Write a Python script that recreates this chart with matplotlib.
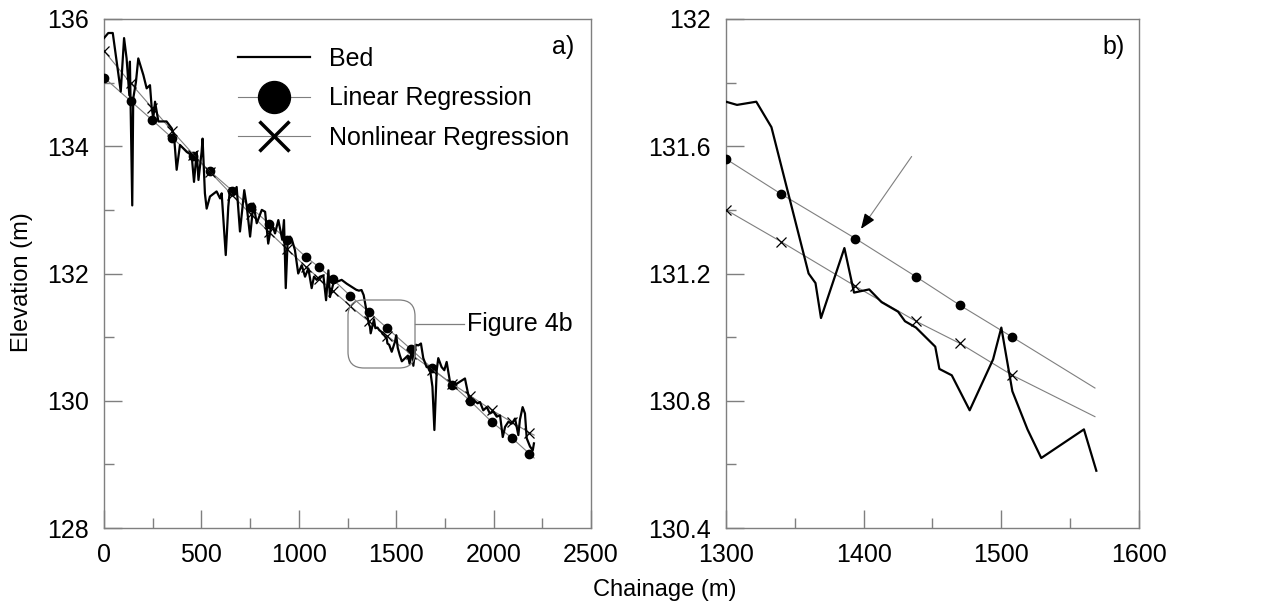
import numpy as np
import matplotlib
matplotlib.use('Agg')
import matplotlib.pyplot as plt
from matplotlib.lines import Line2D
from matplotlib.patches import FancyBboxPatch
from matplotlib.transforms import IdentityTransform
from matplotlib.ticker import MultipleLocator, FuncFormatter

plt.rcParams['font.family'] = ['Liberation Sans', 'DejaVu Sans']

# ── Bed profile (chainage m, elevation m) ───────────────────────────────────
BED_X = [0, 22, 45, 65, 86, 103, 116, 130, 133, 145, 150, 164, 176, 202, 219,
         236, 245, 253, 262, 279, 321, 348, 359, 373, 390, 425, 450, 462, 476,
         485, 501, 506, 518, 527, 544, 578, 596, 604, 625, 638, 647, 664, 681,
         698, 720, 733, 750, 767, 784, 810, 827, 843, 861, 878, 895, 915, 924,
         933, 943, 955, 963, 980, 997, 1015, 1032, 1049, 1066, 1078, 1092,
         1109, 1126, 1140, 1152, 1160, 1177, 1195, 1220, 1246, 1272, 1297,
         1300, 1308, 1322, 1333, 1360, 1365, 1369, 1386, 1393, 1404, 1413, 1425,
         1430, 1438, 1452, 1455, 1464, 1477, 1494, 1500, 1508, 1519, 1529, 1560,
         1569, 1580, 1588, 1600, 1614, 1627, 1639, 1656, 1673, 1686, 1696, 1708,
         1716, 1733, 1747, 1759, 1776, 1802, 1828, 1853, 1867, 1879, 1896, 1918,
         1930, 1947, 1965, 1981, 1999, 2016, 2033, 2047, 2059, 2076, 2093, 2110,
         2127, 2135, 2149, 2161, 2170, 2178, 2187, 2201, 2207]
BED_Z = [135.70, 135.78, 135.78, 135.33, 134.86, 135.70, 135.38, 134.80, 135.33,
         133.07, 134.75, 135.01, 135.38, 135.12, 134.91, 134.96, 134.60, 134.44,
         134.70, 134.39, 134.39, 134.28, 134.18, 133.63, 134.02, 133.91, 133.86,
         133.44, 133.91, 133.47, 133.91, 134.12, 133.26, 133.02, 133.21, 133.29,
         133.18, 133.26, 132.29, 133.05, 133.34, 133.26, 133.36, 132.66, 133.31,
         133.05, 132.58, 133.10, 132.79, 133.00, 132.97, 132.47, 132.79, 132.63,
         132.84, 132.53, 132.84, 131.77, 132.53, 132.58, 132.55, 132.37, 132.00,
         132.13, 131.95, 132.08, 131.77, 131.95, 131.90, 131.95, 131.97, 131.58,
         132.05, 131.63, 131.84, 131.87, 131.90, 131.84, 131.79, 131.74,
         131.74, 131.73, 131.74, 131.66, 131.20, 131.17, 131.06, 131.28, 131.14,
         131.15, 131.11, 131.08, 131.05, 131.03, 130.97, 130.90, 130.88, 130.77,
         130.93, 131.03, 130.83, 130.71, 130.62, 130.71, 130.58, 130.82, 130.55,
         130.88, 130.87, 130.90, 130.67, 130.53, 130.51, 130.22, 129.54, 130.48,
         130.67, 130.53, 130.48, 130.61, 130.30, 130.25, 130.30, 130.35, 130.14,
         129.98, 130.01, 129.96, 129.98, 129.85, 129.90, 129.80, 129.83, 129.75,
         129.77, 129.43, 129.59, 129.67, 129.64, 129.72, 129.46, 129.70, 129.90,
         129.80, 129.41, 129.35, 129.28, 129.22, 129.33]

# ── Regression values, panel a) (last value is the line end, no marker) ─────
REG_X_A = [0, 137, 248, 350, 459, 543, 659, 753, 848, 941, 1036, 1104, 1174,
           1264, 1358, 1454, 1576, 1684, 1787, 1879, 1993, 2096, 2183, 2208]
LIN_A = [135.08, 134.71, 134.41, 134.13, 133.84, 133.61, 133.30, 133.04, 132.78,
         132.53, 132.26, 132.10, 131.91, 131.65, 131.40, 131.14, 130.81, 130.51,
         130.25, 130.00, 129.66, 129.41, 129.17, 129.10]
NONLIN_A = [135.50, 134.99, 134.60, 134.24, 133.87, 133.60, 133.23, 132.93,
            132.65, 132.38, 132.11, 131.92, 131.73, 131.49, 131.25, 131.02,
            130.73, 130.49, 130.27, 130.08, 129.85, 129.66, 129.50, 129.46]

# ── Regression values, panel b) ──────────────────────────────────────────────
REG_X_B = [1300, 1340, 1394, 1438, 1470, 1508, 1568]
LIN_B = [131.56, 131.45, 131.31, 131.19, 131.10, 131.00, 130.84]
NONLIN_B = [131.40, 131.30, 131.16, 131.05, 130.98, 130.88, 130.75]

GREY = '#7f7f7f'
FS = 18


def style_axes(ax):
    for s in ax.spines.values():
        s.set_color(GREY)
        s.set_linewidth(1.0)
    ax.tick_params(which='both', direction='in', top=False, right=False,
                   color=GREY, labelsize=FS, pad=11)
    ax.tick_params(which='major', length=13, width=1.0)
    ax.tick_params(which='minor', length=7, width=1.0)
    ax.yaxis.set_major_formatter(FuncFormatter(lambda v, p: f'{v:g}'))


def draw_reg(ax, x, lin, nonlin, n_mark):
    ax.plot(x, lin, color=GREY, lw=0.8, marker='o', ms=6, mfc='black',
            mec='black', markevery=list(range(n_mark)), zorder=3)
    ax.plot(x, nonlin, color=GREY, lw=0.8, marker='x', ms=6.5, mec='black',
            mew=0.9, markevery=list(range(n_mark)), zorder=3)


fig = plt.figure(figsize=(12.65, 6.04), dpi=100)
H = (528 - 19) / 604
ax1 = fig.add_axes([104 / 1265, 76 / 604, 487 / 1265, H])
ax2 = fig.add_axes([726 / 1265, 76 / 604, 413 / 1265, H])

# ── a) full reach ────────────────────────────────────────────────────────────
draw_reg(ax1, REG_X_A, LIN_A, NONLIN_A, len(REG_X_A) - 1)
ax1.plot(BED_X, BED_Z, color='black', lw=1.6, zorder=4)
ax1.set_xlim(0, 2500)
ax1.set_ylim(128, 136)
ax1.xaxis.set_major_locator(MultipleLocator(500))
ax1.xaxis.set_minor_locator(MultipleLocator(250))
ax1.yaxis.set_major_locator(MultipleLocator(2))
ax1.yaxis.set_minor_locator(MultipleLocator(1))
style_axes(ax1)
ax1.text(0.965, 0.945, 'a)', transform=ax1.transAxes, ha='right', va='center',
         fontsize=FS)

# callout box drawn in pixel units so the corners stay round
box = FancyBboxPatch((348, 604 - 368), 67, 68,
                     boxstyle='round,pad=0,rounding_size=16',
                     transform=IdentityTransform(), fill=False, ec=GREY, lw=0.9,
                     zorder=2)
fig.patches.append(box)
ax1.plot([1597, 1850], [131.21, 131.21], color=GREY, lw=0.9)
ax1.text(1865, 131.21, 'Figure 4b', fontsize=FS, va='center', ha='left')

handles = [
    Line2D([], [], color='black', lw=1.6),
    Line2D([], [], color=GREY, lw=0.8, marker='o', ms=23, mfc='black', mec='black'),
    Line2D([], [], color=GREY, lw=0.8, marker='x', ms=22, mec='black', mew=2.5),
]
ax1.legend(handles, ['Bed', 'Linear Regression', 'Nonlinear Regression'],
           loc='upper left', bbox_to_anchor=(0.275, 0.945), frameon=False,
           fontsize=FS, handlelength=2.9, handletextpad=0.75, labelspacing=0.62,
           borderpad=0, borderaxespad=0)

# ── b) zoom on 1300-1600 m ───────────────────────────────────────────────────
bx = np.array(BED_X)
bz = np.array(BED_Z)
sel = (bx >= 1300) & (bx <= 1570)
draw_reg(ax2, REG_X_B, LIN_B, NONLIN_B, len(REG_X_B) - 1)
ax2.plot(bx[sel], bz[sel], color='black', lw=1.6, zorder=4)
ax2.set_xlim(1300, 1600)
ax2.set_ylim(130.4, 132)
ax2.xaxis.set_major_locator(MultipleLocator(100))
ax2.xaxis.set_minor_locator(MultipleLocator(50))
ax2.yaxis.set_major_locator(MultipleLocator(0.4))
ax2.yaxis.set_minor_locator(MultipleLocator(0.2))
style_axes(ax2)
ax2.text(0.965, 0.945, 'b)', transform=ax2.transAxes, ha='right', va='center',
         fontsize=FS)

ax2.annotate('', xy=(1399, 131.345), xytext=(1436, 131.575),
             arrowprops=dict(arrowstyle='-', color=GREY, lw=0.8))
ax2.annotate('', xy=(1398, 131.34), xytext=(1404, 131.377),
             arrowprops=dict(arrowstyle='-|>,head_length=0.9,head_width=0.35',
                             color='black', lw=1.0, shrinkA=0, shrinkB=0))

fig.text(665 / 1265, 1 - 590 / 604, 'Chainage (m)', ha='center', va='center',
         fontsize=17)
fig.text(22 / 1265, 1 - 282 / 604, 'Elevation (m)', ha='center', va='center',
         rotation=90, fontsize=17)

fig.savefig('out.png', dpi=100, facecolor='white')
